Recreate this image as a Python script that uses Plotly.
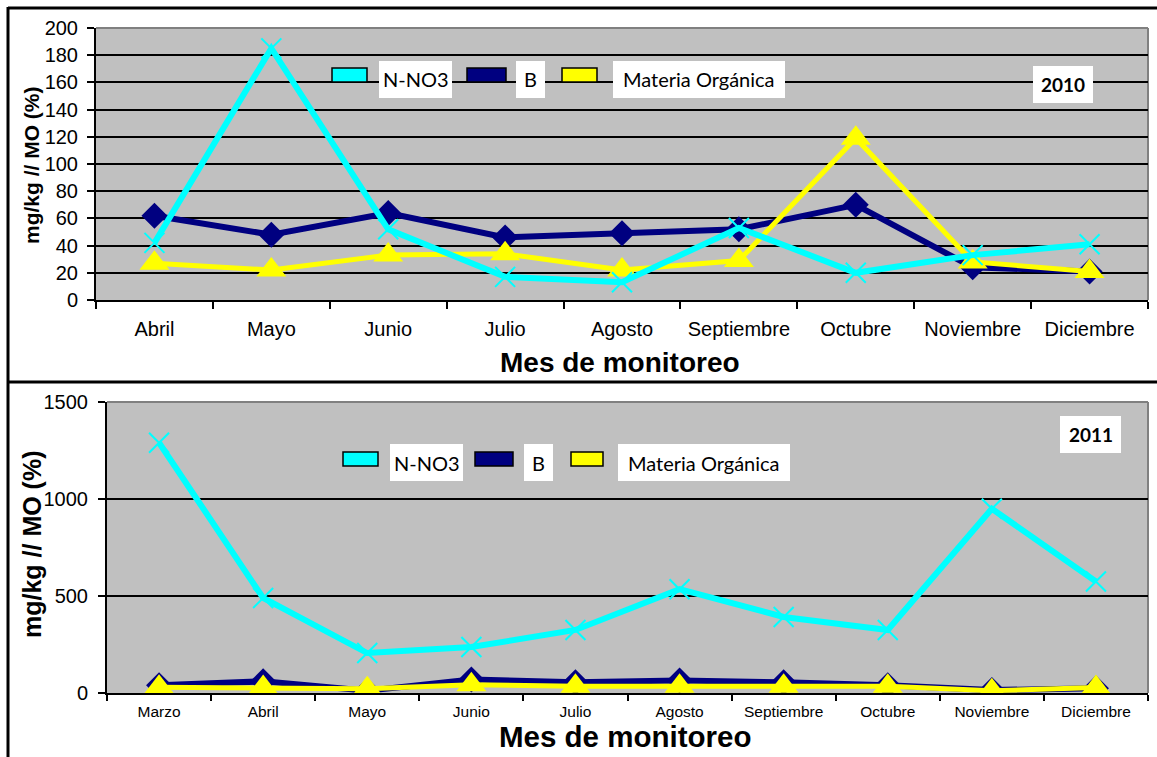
import plotly.graph_objects as go

# ---------------- data ----------------
months_2010 = ["Abril", "Mayo", "Junio", "Julio", "Agosto", "Septiembre", "Octubre", "Noviembre", "Diciembre"]
nno3_2010 = [42, 185, 52, 17, 13, 53, 20, 33, 41]
b_2010 = [62, 48, 64, 46, 49, 52, 70, 24, 21]
mo_2010 = [27, 22, 33, 34, 22, 29, 119, 28, 21]

months_2011 = ["Marzo", "Abril", "Mayo", "Junio", "Julio", "Agosto", "Septiembre", "Octubre", "Noviembre", "Diciembre"]
nno3_2011 = [1290, 490, 206, 237, 325, 535, 392, 325, 950, 575]
b_2011 = [40, 60, 12, 70, 55, 65, 55, 40, 15, 25]
mo_2011 = [30, 28, 22, 42, 35, 35, 35, 35, 12, 28]

series_names = ["N-NO3", "B", "Materia Orgánica"]
y_title = "mg/kg // MO (%)"
x_title = "Mes de monitoreo"

CYAN = "#00FFFF"
NAVY = "#000080"
YELLOW = "#FFFF00"
PLOTBG = "#C0C0C0"

W, H = 1157, 757


def px(x):
    return x / W


def py(y):
    return 1 - y / H


fig = go.Figure()


def add_series(xa, ya, cats, n, b, mo):
    fig.add_trace(go.Scatter(x=cats, y=b, name=series_names[1], mode="lines+markers",
                             line=dict(color=NAVY, width=6),
                             marker=dict(symbol="diamond", size=20, color=NAVY),
                             xaxis=xa, yaxis=ya, showlegend=False))
    fig.add_trace(go.Scatter(x=cats, y=mo, name=series_names[2], mode="lines+markers",
                             line=dict(color=YELLOW, width=5),
                             marker=dict(symbol="triangle-up", size=26, color=YELLOW),
                             xaxis=xa, yaxis=ya, showlegend=False))
    fig.add_trace(go.Scatter(x=cats, y=n, name=series_names[0], mode="lines+markers",
                             line=dict(color=CYAN, width=6),
                             marker=dict(symbol="x-thin", size=20, color=CYAN,
                                         line=dict(color=CYAN, width=2)),
                             xaxis=xa, yaxis=ya, showlegend=False))


add_series("x", "y", months_2010, nno3_2010, b_2010, mo_2010)
add_series("x2", "y2", months_2011, nno3_2011, b_2011, mo_2011)

top = dict(x0=96, x1=1148, y0=28, y1=300)
bot = dict(x0=107, x1=1148, y0=402, y1=693)

axis_font = dict(family="Liberation Sans, Arial, sans-serif", color="black")
bold_font = "Liberation Sans, Arial, sans-serif"

fig.update_layout(
    width=W, height=H,
    margin=dict(l=0, r=0, t=0, b=0, pad=0, autoexpand=False),
    paper_bgcolor="white",
    plot_bgcolor=PLOTBG,
    showlegend=False,
    xaxis=dict(domain=[px(top["x0"]), px(top["x1"])], anchor="y", automargin=False,
               type="category", range=[-0.5, 8.5],
               showline=True, linecolor="black", linewidth=2,
               ticks="outside", tickson="boundaries", ticklen=7, tickwidth=2, tickcolor="black",
               showgrid=False, ticklabelstandoff=10,
               tickfont=dict(size=20, **axis_font)),
    yaxis=dict(domain=[py(top["y1"]), py(top["y0"])], anchor="x", automargin=False,
               range=[0, 200], dtick=20,
               showline=True, linecolor="black", linewidth=2,
               ticks="outside", ticklen=7, tickwidth=2, tickcolor="black",
               showgrid=True, gridcolor="black", gridwidth=2,
               zeroline=False, ticklabelstandoff=5,
               tickfont=dict(size=20, **axis_font)),
    xaxis2=dict(domain=[px(bot["x0"]), px(bot["x1"])], anchor="y2", automargin=False,
                type="category", range=[-0.5, 9.5],
                showline=True, linecolor="black", linewidth=2,
                ticks="outside", tickson="boundaries", ticklen=6, tickwidth=2, tickcolor="black",
                showgrid=False, ticklabelstandoff=3,
                tickfont=dict(size=15.5, **axis_font)),
    yaxis2=dict(domain=[py(bot["y1"]), py(bot["y0"])], anchor="x2", automargin=False,
                range=[0, 1500], dtick=500,
                showline=True, linecolor="black", linewidth=2,
                ticks="outside", ticklen=7, tickwidth=2, tickcolor="black",
                showgrid=True, gridcolor="black", gridwidth=2,
                zeroline=False, ticklabelstandoff=6,
                tickfont=dict(size=20, **axis_font)),
)

shapes = []
annotations = []

# axis titles
annotations.append(dict(xref="paper", yref="paper", x=px(620), y=py(362), text=f"<b>{x_title}</b>",
                        showarrow=False, xanchor="center", yanchor="middle",
                        font=dict(family=bold_font, size=28, color="black")))
annotations.append(dict(xref="paper", yref="paper", x=px(625), y=py(736), text=f"<b>{x_title}</b>",
                        showarrow=False, xanchor="center", yanchor="middle",
                        font=dict(family=bold_font, size=29.5, color="black")))
annotations.append(dict(xref="paper", yref="paper", x=px(32), y=py(165), text=f"<b>{y_title}</b>",
                        showarrow=False, xanchor="center", yanchor="middle", textangle=-90,
                        font=dict(family=bold_font, size=21, color="black")))
annotations.append(dict(xref="paper", yref="paper", x=px(32), y=py(544), text=f"<b>{y_title}</b>",
                        showarrow=False, xanchor="center", yanchor="middle", textangle=-90,
                        font=dict(family=bold_font, size=25, color="black")))

# outer chart frames
shapes.append(dict(type="line", xref="paper", yref="paper", x0=px(8), x1=px(1160), y0=py(8), y1=py(8),
                   line=dict(color="black", width=3)))
shapes.append(dict(type="line", xref="paper", yref="paper", x0=px(8), x1=px(1160), y0=py(382), y1=py(382),
                   line=dict(color="black", width=3)))
shapes.append(dict(type="line", xref="paper", yref="paper", x0=px(8), x1=px(8), y0=py(7), y1=py(760),
                   line=dict(color="black", width=3)))

# grey plot-area borders (top and right)
for xr, yr in (("x", "y"), ("x2", "y2")):
    shapes.append(dict(type="line", xref=f"{xr} domain", yref=f"{yr} domain", x0=0, x1=1, y0=1, y1=1,
                       line=dict(color="#808080", width=2), layer="below"))
    shapes.append(dict(type="line", xref=f"{xr} domain", yref=f"{yr} domain", x0=1, x1=1, y0=0, y1=1,
                       line=dict(color="#808080", width=2), layer="below"))

legend_font = "Lato, Carlito, Calibri, sans-serif"


def legend(swatches, boxes, yb0, yb1, ys0, ys1):
    colors = [CYAN, NAVY, YELLOW]
    for (sx0, sx1), c in zip(swatches, colors):
        shapes.append(dict(type="rect", xref="paper", yref="paper",
                           x0=px(sx0), x1=px(sx1), y0=py(ys1), y1=py(ys0),
                           fillcolor=c, line=dict(color="black", width=1.5)))
    for (bx0, bx1), name in zip(boxes, series_names):
        shapes.append(dict(type="rect", xref="paper", yref="paper",
                           x0=px(bx0), x1=px(bx1), y0=py(yb1), y1=py(yb0),
                           fillcolor="white", line=dict(width=0)))
        annotations.append(dict(xref="paper", yref="paper", x=px((bx0 + bx1) / 2), y=py((yb0 + yb1) / 2),
                                text=name, showarrow=False, xanchor="center", yanchor="middle",
                                font=dict(family=legend_font, size=20, color="black")))


legend([(332, 367), (467, 506), (562, 597)], [(379, 452), (516, 545), (613, 785)], 61, 98, 68, 82)
legend([(343, 378), (475, 513), (571, 603)], [(390, 463), (524, 553), (618, 790)], 444, 481, 452, 466)


def year_box(text, x0, x1, y0, y1):
    shapes.append(dict(type="rect", xref="paper", yref="paper", x0=px(x0), x1=px(x1), y0=py(y1), y1=py(y0),
                       fillcolor="white", line=dict(width=0)))
    annotations.append(dict(xref="paper", yref="paper", x=px((x0 + x1) / 2), y=py((y0 + y1) / 2),
                            text=f"<b>{text}</b>", showarrow=False, xanchor="center", yanchor="middle",
                            font=dict(family=legend_font, size=19, color="black")))


year_box("2010", 1033, 1093, 66, 103)
year_box("2011", 1060, 1121, 416, 453)

fig.update_layout(shapes=shapes, annotations=annotations)

fig.write_html("out.html", config={"displayModeBar": False},
               post_script="document.body.style.margin='0';document.body.style.overflow='hidden';")
